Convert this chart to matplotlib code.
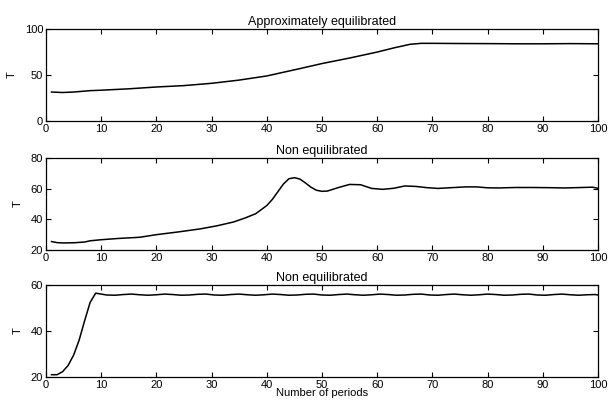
import matplotlib
matplotlib.use("Agg")
import matplotlib.pyplot as plt

plt.rcParams["font.family"] = ["Liberation Sans", "DejaVu Sans"]
plt.rcParams["font.size"] = 8

# --- values --------------------------------------------------------------
top_x = [1, 3, 5, 8, 10, 15, 20, 25, 30, 35, 40, 43, 46, 50, 55, 60, 63, 66,
         68, 70, 75, 80, 85, 90, 95, 100]
top_y = [31.5, 31, 31.5, 33, 33.5, 35, 37, 38.5, 41, 44.5, 49, 53, 57, 62.5,
         68.5, 75, 79.5, 83.5, 84.5, 84.5, 84.3, 84.2, 84, 84, 84.2, 84]

mid_x = [1, 2, 3, 5, 7, 8, 10, 13, 17, 20, 24, 28, 31, 34, 36, 38, 40, 41, 42,
         43, 44, 45, 46, 47, 48, 49, 50, 51, 53, 55, 57, 59, 61, 63, 65, 67,
         69, 71, 73, 76, 78, 80, 82, 85, 88, 91, 94, 97, 99, 100]
mid_y = [25.5, 24.8, 24.6, 24.7, 25.2, 26, 26.7, 27.5, 28.3, 30, 31.8, 33.8,
         35.8, 38.3, 40.8, 43.7, 49, 53, 58, 63, 66.5, 67.2, 66.3, 63.8, 61,
         59, 58.3, 58.5, 60.8, 62.8, 62.6, 60.2, 59.6, 60.3, 61.8, 61.5, 60.7,
         60.2, 60.6, 61.2, 61.2, 60.6, 60.5, 60.8, 60.8, 60.7, 60.5, 60.8, 61,
         60.3]

bot_x = [1, 2, 3, 4, 5, 6, 7, 8, 9, 10, 11, 12.5, 14, 15.5, 17, 18.5, 20,
         21.5, 23, 24.5, 26, 27.5, 29, 30.5, 32, 33.5, 35, 36.5, 38, 39.5, 41,
         42.5, 44, 45.5, 47, 48.5, 50, 51.5, 53, 54.5, 56, 57.5, 59, 60.5, 62,
         63.5, 65, 66.5, 68, 69.5, 71, 72.5, 74, 75.5, 77, 78.5, 80, 81.5, 83,
         84.5, 86, 87.5, 89, 90.5, 92, 93.5, 95, 96.5, 98, 99.5, 100]
bot_y = [21, 21, 22.3, 25, 29.5, 36, 44.5, 52.5, 56.5, 56.1, 55.7, 55.6,
         55.9, 56.1, 55.8, 55.6, 55.8, 56.1, 55.9, 55.6, 55.7, 56.0, 56.1,
         55.7, 55.6, 55.9, 56.1, 55.8, 55.6, 55.8, 56.1, 55.9, 55.6, 55.7,
         56.0, 56.1, 55.7, 55.6, 55.9, 56.1, 55.8, 55.6, 55.8, 56.1, 55.9,
         55.6, 55.7, 56.0, 56.1, 55.7, 55.6, 55.9, 56.1, 55.8, 55.6, 55.8,
         56.1, 55.9, 55.6, 55.7, 56.0, 56.1, 55.7, 55.6, 55.9, 56.1, 55.8,
         55.6, 55.8, 55.9, 55.7]

panels = [
    ("Approximately equilibrated", top_x, top_y, (0, 100), [0, 50, 100]),
    ("Non equilibrated", mid_x, mid_y, (20, 80), [20, 40, 60, 80]),
    ("Non equilibrated", bot_x, bot_y, (20, 60), [20, 40, 60]),
]
bottoms = [0.6998, 0.3797, 0.0645]

fig = plt.figure(figsize=(6.09, 4.03), dpi=100)

for (title, xs, ys, ylim, yticks), b in zip(panels, bottoms):
    ax = fig.add_axes([0.0755, b, 0.9064, 0.228])
    ax.plot(xs, ys, color="black", lw=1.1)
    ax.set_xlim(0, 100)
    ax.set_ylim(*ylim)
    ax.set_xticks(range(0, 101, 10))
    ax.set_yticks(yticks)
    ax.tick_params(direction="in", top=True, right=True, length=3.5,
                   width=0.8, pad=2, labelsize=8)
    for sp in ax.spines.values():
        sp.set_linewidth(0.9)
    ax.set_title(title, fontsize=9, pad=3)
    ax.set_ylabel("T", fontsize=8, labelpad=6)
    last = ax

last.set_xlabel("Number of periods", fontsize=8, labelpad=-1)

fig.savefig("out.png", dpi=100)
